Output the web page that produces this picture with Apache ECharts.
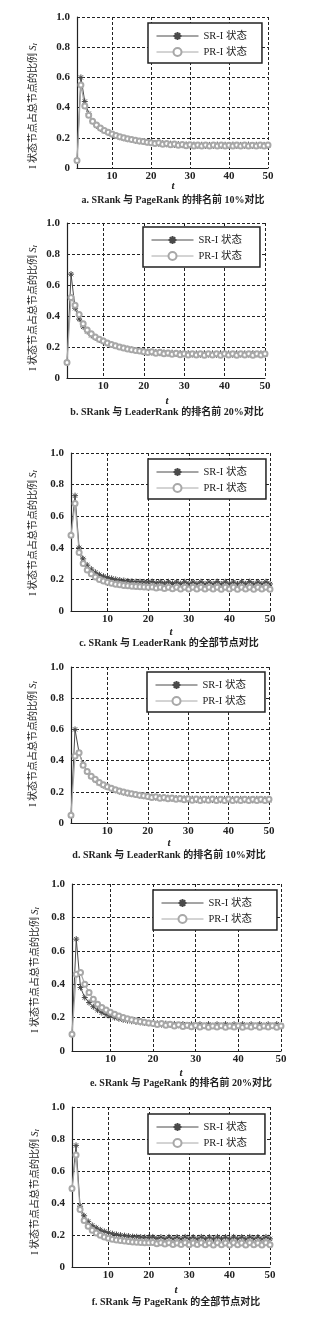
<!DOCTYPE html>
<html>
<head>
<meta charset="utf-8">
<script src="https://cdn.jsdelivr.net/npm/echarts@6/dist/echarts.min.js"></script>
<style>
html, body { margin: 0; padding: 0; background: #fff; }
#main { width: 313px; height: 1327px; }
</style>
</head>
<body>
<div id="main"></div>
<script>
// time steps (t)
var tSteps = [1, 2, 3, 4, 5, 6, 7, 8, 9, 10,
  11, 12, 13, 14, 15, 16, 17, 18, 19, 20,
  21, 22, 23, 24, 25, 26, 27, 28, 29, 30,
  31, 32, 33, 34, 35, 36, 37, 38, 39, 40,
  41, 42, 43, 44, 45, 46, 47, 48, 49, 50];
var xTicks = [10, 20, 30, 40, 50];
var legendNames = ['SR-I 状态', 'PR-I 状态'];
var captions = [
  'a. SRank 与 PageRank 的排名前 10%对比',
  'b. SRank 与 LeaderRank 的排名前 20%对比',
  'c. SRank 与 LeaderRank 的全部节点对比',
  'd. SRank 与 LeaderRank 的排名前 10%对比',
  'e. SRank 与 PageRank 的排名前 20%对比',
  'f. SRank 与 PageRank 的全部节点对比'
];

// a
var srA = [0.05, 0.60, 0.44, 0.36, 0.31, 0.28, 0.26, 0.245, 0.233, 0.222,
  0.212, 0.204, 0.197, 0.191, 0.186, 0.181, 0.177, 0.173, 0.170, 0.167,
  0.166, 0.160, 0.164, 0.157, 0.161, 0.153, 0.158, 0.151, 0.156, 0.149,
  0.155, 0.147, 0.154, 0.146, 0.153, 0.147, 0.155, 0.146, 0.154, 0.148,
  0.155, 0.146, 0.153, 0.147, 0.155, 0.146, 0.154, 0.148, 0.153, 0.147];
var prA = [0.05, 0.55, 0.41, 0.35, 0.31, 0.285, 0.265, 0.248, 0.236, 0.225,
  0.215, 0.207, 0.200, 0.194, 0.188, 0.183, 0.179, 0.175, 0.171, 0.168,
  0.162, 0.167, 0.158, 0.163, 0.154, 0.159, 0.151, 0.156, 0.148, 0.154,
  0.146, 0.153, 0.145, 0.152, 0.146, 0.153, 0.145, 0.152, 0.146, 0.151,
  0.145, 0.153, 0.146, 0.152, 0.145, 0.151, 0.146, 0.153, 0.145, 0.152];
// b
var srB = [0.10, 0.67, 0.45, 0.38, 0.33, 0.30, 0.275, 0.26, 0.245, 0.235,
  0.225, 0.215, 0.207, 0.200, 0.194, 0.189, 0.184, 0.180, 0.176, 0.172,
  0.172, 0.164, 0.168, 0.160, 0.165, 0.157, 0.163, 0.155, 0.161, 0.152,
  0.160, 0.151, 0.159, 0.150, 0.160, 0.151, 0.159, 0.150, 0.160, 0.152,
  0.159, 0.150, 0.160, 0.151, 0.159, 0.150, 0.160, 0.152, 0.159, 0.151];
var prB = [0.10, 0.52, 0.47, 0.41, 0.35, 0.31, 0.285, 0.265, 0.25, 0.238,
  0.226, 0.216, 0.208, 0.200, 0.193, 0.187, 0.182, 0.178, 0.174, 0.170,
  0.164, 0.170, 0.160, 0.166, 0.156, 0.162, 0.153, 0.159, 0.150, 0.157,
  0.148, 0.156, 0.148, 0.157, 0.147, 0.156, 0.148, 0.157, 0.147, 0.156,
  0.148, 0.157, 0.147, 0.156, 0.148, 0.157, 0.147, 0.156, 0.148, 0.157];
// c
var srC = [0.48, 0.73, 0.40, 0.33, 0.29, 0.265, 0.245, 0.23, 0.22, 0.212,
  0.206, 0.200, 0.196, 0.193, 0.190, 0.188, 0.186, 0.185, 0.184, 0.183,
  0.186, 0.178, 0.184, 0.176, 0.185, 0.174, 0.184, 0.173, 0.185, 0.172,
  0.184, 0.173, 0.185, 0.171, 0.184, 0.172, 0.186, 0.171, 0.185, 0.172,
  0.184, 0.171, 0.185, 0.172, 0.186, 0.171, 0.184, 0.172, 0.185, 0.171];
var prC = [0.48, 0.68, 0.37, 0.30, 0.26, 0.235, 0.215, 0.20, 0.19, 0.182,
  0.175, 0.170, 0.166, 0.162, 0.160, 0.157, 0.155, 0.153, 0.152, 0.150,
  0.152, 0.145, 0.150, 0.143, 0.151, 0.141, 0.150, 0.140, 0.151, 0.139,
  0.150, 0.140, 0.151, 0.139, 0.150, 0.140, 0.151, 0.138, 0.150, 0.139,
  0.151, 0.138, 0.150, 0.139, 0.151, 0.138, 0.150, 0.139, 0.151, 0.138];
// d
var srD = [0.05, 0.60, 0.45, 0.38, 0.33, 0.30, 0.275, 0.255, 0.24, 0.23,
  0.22, 0.21, 0.202, 0.196, 0.19, 0.185, 0.18, 0.176, 0.172, 0.169,
  0.170, 0.162, 0.166, 0.158, 0.163, 0.155, 0.160, 0.152, 0.158, 0.149,
  0.156, 0.147, 0.155, 0.146, 0.155, 0.147, 0.154, 0.146, 0.155, 0.147,
  0.154, 0.145, 0.155, 0.146, 0.154, 0.145, 0.155, 0.146, 0.154, 0.145];
var prD = [0.05, 0.43, 0.45, 0.37, 0.33, 0.30, 0.28, 0.26, 0.245, 0.233,
  0.222, 0.213, 0.205, 0.198, 0.192, 0.187, 0.182, 0.178, 0.174, 0.17,
  0.163, 0.168, 0.158, 0.164, 0.155, 0.160, 0.152, 0.157, 0.149, 0.155,
  0.146, 0.154, 0.145, 0.153, 0.146, 0.154, 0.145, 0.153, 0.144, 0.154,
  0.145, 0.153, 0.144, 0.152, 0.145, 0.153, 0.144, 0.152, 0.145, 0.153];
// e
var srE = [0.10, 0.67, 0.38, 0.32, 0.29, 0.265, 0.245, 0.23, 0.218, 0.208,
  0.2, 0.193, 0.187, 0.182, 0.178, 0.174, 0.171, 0.168, 0.166, 0.164,
  0.166, 0.158, 0.164, 0.156, 0.162, 0.154, 0.161, 0.152, 0.160, 0.151,
  0.160, 0.150, 0.161, 0.151, 0.160, 0.150, 0.161, 0.151, 0.160, 0.150,
  0.161, 0.151, 0.160, 0.150, 0.161, 0.151, 0.160, 0.150, 0.161, 0.151];
var prE = [0.10, 0.46, 0.47, 0.40, 0.35, 0.31, 0.28, 0.26, 0.245, 0.232,
  0.22, 0.21, 0.2, 0.193, 0.187, 0.181, 0.176, 0.172, 0.168, 0.165,
  0.158, 0.165, 0.154, 0.160, 0.150, 0.157, 0.147, 0.154, 0.145, 0.152,
  0.143, 0.151, 0.142, 0.150, 0.143, 0.151, 0.142, 0.150, 0.143, 0.151,
  0.142, 0.150, 0.143, 0.151, 0.142, 0.150, 0.143, 0.151, 0.142, 0.150];
// f
var srF = [0.49, 0.76, 0.38, 0.32, 0.285, 0.26, 0.245, 0.232, 0.222, 0.215,
  0.208, 0.203, 0.199, 0.196, 0.193, 0.19, 0.189, 0.187, 0.186, 0.185,
  0.188, 0.179, 0.187, 0.177, 0.188, 0.176, 0.187, 0.175, 0.188, 0.176,
  0.187, 0.175, 0.188, 0.176, 0.187, 0.175, 0.188, 0.176, 0.187, 0.175,
  0.188, 0.176, 0.187, 0.175, 0.188, 0.176, 0.187, 0.175, 0.188, 0.176];
var prF = [0.49, 0.70, 0.36, 0.29, 0.255, 0.23, 0.212, 0.198, 0.188, 0.18,
  0.174, 0.169, 0.165, 0.162, 0.159, 0.157, 0.155, 0.153, 0.152, 0.151,
  0.153, 0.146, 0.152, 0.143, 0.151, 0.141, 0.150, 0.140, 0.151, 0.139,
  0.150, 0.140, 0.151, 0.139, 0.150, 0.138, 0.151, 0.139, 0.150, 0.138,
  0.151, 0.139, 0.150, 0.138, 0.151, 0.139, 0.150, 0.138, 0.151, 0.139];

var srAll = [srA, srB, srC, srD, srE, srF];
var prAll = [prA, prB, prC, prD, prE, prF];

// layout of the six panels (pixels)
var panels = [
  { l: 77, t: 17,   w: 191, h: 151, yn: [33, 106],  tl: [173, 186],  cap: [173, 200],  lg: [148, 23, 112] },
  { l: 67, t: 223,  w: 198, h: 155, yn: [33, 308],  tl: [167, 401],  cap: [167, 412],  lg: [143, 227, 115] },
  { l: 71, t: 453,  w: 199, h: 158, yn: [33, 533],  tl: [171, 632],  cap: [169, 643],  lg: [148, 459, 116] },
  { l: 71, t: 667,  w: 198, h: 156, yn: [33, 744],  tl: [169, 843],  cap: [169, 855],  lg: [147, 672, 116] },
  { l: 72, t: 884,  w: 209, h: 167, yn: [35, 970],  tl: [181, 1073], cap: [181, 1083], lg: [153, 890, 122] },
  { l: 72, t: 1107, w: 198, h: 160, yn: [35, 1192], tl: [176, 1290], cap: [176, 1302], lg: [148, 1114, 115] }
];

var FONT = '"Liberation Serif", "Noto Sans CJK SC", serif';
var asterisk = 'path://M0,5L10,5M5,0L5,10M1.5,1.5L8.5,8.5M8.5,1.5L1.5,8.5';

function pairs(vals) {
  var out = [];
  for (var i = 0; i < vals.length; i++) {
    out.push([tSteps[i], vals[i]]);
  }
  return out;
}

var grids = [], xAxes = [], yAxes = [], series = [], legends = [], graphics = [];

for (var i = 0; i < panels.length; i++) {
  var p = panels[i];
  grids.push({ left: p.l, top: p.t, width: p.w, height: p.h });

  xAxes.push({
    type: 'value', gridIndex: i, min: 1, max: 50,
    axisLine: { show: true, onZero: false, lineStyle: { color: '#222', width: 1.2 } },
    axisTick: { show: false, customValues: xTicks },
    axisLabel: { customValues: xTicks, margin: 3, fontFamily: FONT, fontWeight: 'bold', fontSize: 11, color: '#222' },
    splitLine: { show: true, lineStyle: { type: [3, 2], color: '#222', width: 1 } }
  });
  yAxes.push({
    type: 'value', gridIndex: i, min: 0, max: 1, interval: 0.2,
    axisLine: { show: true, lineStyle: { color: '#222', width: 1.2 } },
    axisTick: { show: false },
    axisLabel: {
      margin: 7, fontFamily: FONT, fontWeight: 'bold', fontSize: 11, color: '#222',
      formatter: function (v) { return v === 0 ? '0' : v.toFixed(1); }
    },
    splitLine: { show: true, lineStyle: { type: [3, 2], color: '#222', width: 1 } }
  });

  series.push({
    type: 'line', name: legendNames[0], xAxisIndex: i, yAxisIndex: i,
    data: pairs(srAll[i]),
    symbol: asterisk, symbolSize: 6, showAllSymbol: true,
    lineStyle: { color: '#4a4a4a', width: 1 },
    itemStyle: { color: '#4a4a4a', borderColor: '#4a4a4a', borderWidth: 1 },
    animation: false
  });
  series.push({
    type: 'line', name: legendNames[1], xAxisIndex: i, yAxisIndex: i,
    data: pairs(prAll[i]),
    symbol: 'emptyCircle', symbolSize: 5, showAllSymbol: true,
    lineStyle: { color: '#a8a8a8', width: 1.2 },
    itemStyle: { color: '#a8a8a8', borderColor: '#a8a8a8', borderWidth: 1 },
    animation: false
  });

  legends.push({
    data: legendNames,
    orient: 'vertical',
    left: p.lg[0], top: p.lg[1],
    padding: [6, p.lg[2] - 97, 4, 8],
    itemWidth: 42, itemHeight: 10, itemGap: 2,
    borderColor: '#222', borderWidth: 1.5,
    backgroundColor: '#fff',
    lineStyle: { width: 1 },
    textStyle: { fontFamily: FONT, fontSize: 10.5, color: '#222', lineHeight: 14 }
  });

  // y axis name
  graphics.push({
    type: 'text', x: p.yn[0], y: p.yn[1], rotation: Math.PI / 2,
    style: {
      text: '{n|I 状态节点占总节点的比例 }{s|S}{i|I}',
      align: 'center', verticalAlign: 'middle',
      textAlign: 'center', textVerticalAlign: 'middle',
      fill: '#222',
      rich: {
        n: { fontFamily: FONT, fontSize: 10, fill: '#222' },
        s: { fontFamily: FONT, fontSize: 10, fontStyle: 'italic', fill: '#222' },
        i: { fontFamily: FONT, fontSize: 7, fontStyle: 'italic', fill: '#222', verticalAlign: 'bottom', padding: [4, 0, 0, 0] }
      }
    }
  });
  // x axis name
  graphics.push({
    type: 'text', x: p.tl[0], y: p.tl[1],
    style: {
      text: 't', fill: '#222',
      font: 'italic bold 11px ' + FONT,
      align: 'center', verticalAlign: 'middle',
      textAlign: 'center', textVerticalAlign: 'middle'
    }
  });
  // caption
  graphics.push({
    type: 'text', x: p.cap[0], y: p.cap[1],
    style: {
      text: captions[i], fill: '#222',
      font: 'bold 10px ' + FONT,
      align: 'center', verticalAlign: 'middle',
      textAlign: 'center', textVerticalAlign: 'middle'
    }
  });
}

var chart = echarts.init(document.getElementById('main'), null, { renderer: 'canvas' });
var option = {
  backgroundColor: '#fff',
  animation: false,
  grid: grids,
  xAxis: xAxes,
  yAxis: yAxes,
  legend: legends,
  series: series,
  graphic: graphics
};
chart.setOption(option);
</script>
</body>
</html>
